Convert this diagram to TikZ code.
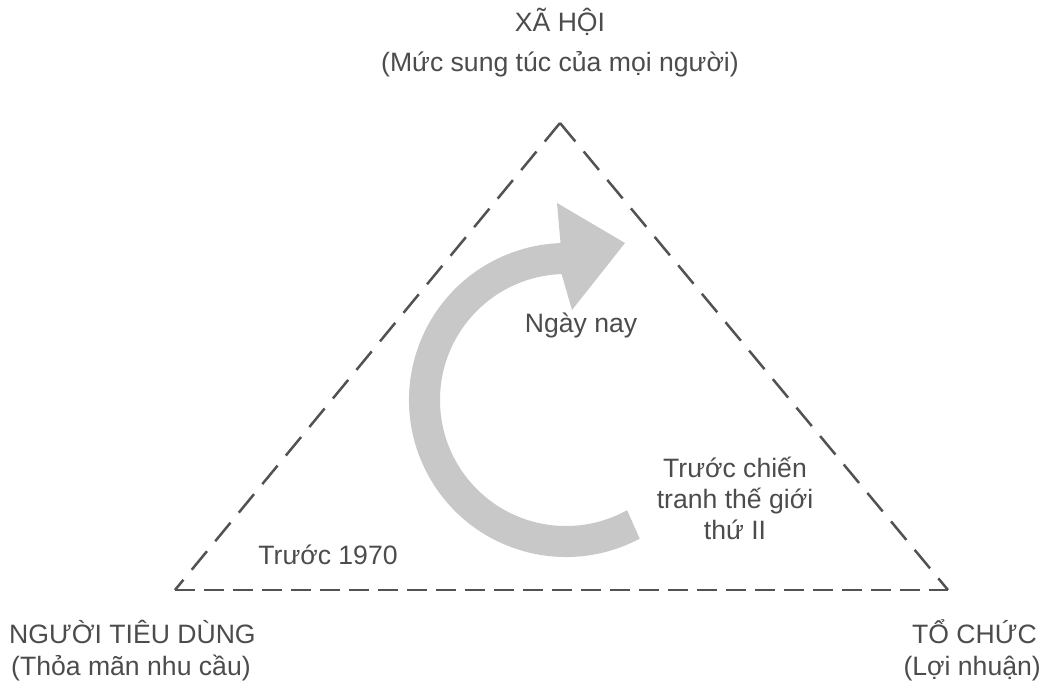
\documentclass[tikz,border=0pt]{standalone}
\usepackage{fontspec}
\setmainfont{Liberation Sans}
\usetikzlibrary{calc}
\definecolor{edgegray}{HTML}{525252}
\definecolor{inkgray}{HTML}{4C4C4C}
\definecolor{arrowgray}{HTML}{C8C8C8}
\begin{document}
\begin{tikzpicture}[x=1pt,y=-1pt,
  side/.style={draw=edgegray, line width=2.5pt, dash pattern=on 24pt off 13pt},
  bottomside/.style={draw=edgegray, line width=2.5pt, dash pattern=on 20pt off 9pt},
  label/.style={text=inkgray, font=\fontsize{26.6}{31}\selectfont, inner sep=0pt, anchor=base},
  sweep/.style={fill=arrowgray}]
\useasboundingbox (0,0) rectangle (1050,690);

% corners of the dashed triangle
\coordinate (apex) at (560,123);
\coordinate (lowleft) at (175,590);
\coordinate (lowright) at (948,590);
\draw[side] (apex) -- (lowleft);
\draw[side] (apex) -- (lowright);
\draw[bottomside] (lowleft) -- (lowright);

% broad curved arrow running clockwise up to the top
\coordinate (hub) at (566,400);
\path (hub) ++(62:157) coordinate (tailout);
\path (hub) ++(268:126) coordinate (neckin);
\coordinate (headtop) at (557,203);
\coordinate (headtip) at (625,243);
\coordinate (headbot) at (572,310);
\fill[sweep] (tailout) arc[start angle=62, end angle=268, radius=157]
  -- (headtop) -- (headtip) -- (headbot) -- (neckin)
  arc[start angle=268, end angle=61, radius=126] -- cycle;

% corner labels
\node[label] (society) at (560,32) {XÃ HỘI};
\node[label] (societygoal) at (560,72) {(Mức sung túc của mọi người)};
\node[label, anchor=base west] (consumer) at (9,643) {NGƯỜI TIÊU DÙNG};
\node[label, anchor=base west] (consumergoal) at (11,675) {(Thỏa mãn nhu cầu)};
\node[label, anchor=base east] (company) at (1037,643) {TỔ CHỨC};
\node[label, anchor=base east] (companygoal) at (1041,675) {(Lợi nhuận)};

% stages along the arrow
\node[label] (today) at (581,332) {Ngày nay};
\node[label] (prewarA) at (735,477) {Trước chiến};
\node[label] (prewarB) at (735,508) {tranh thế giới};
\node[label] (prewarC) at (735,539) {thứ II};
\node[label] (before1970) at (328,564) {Trước 1970};
\end{tikzpicture}
\end{document}
